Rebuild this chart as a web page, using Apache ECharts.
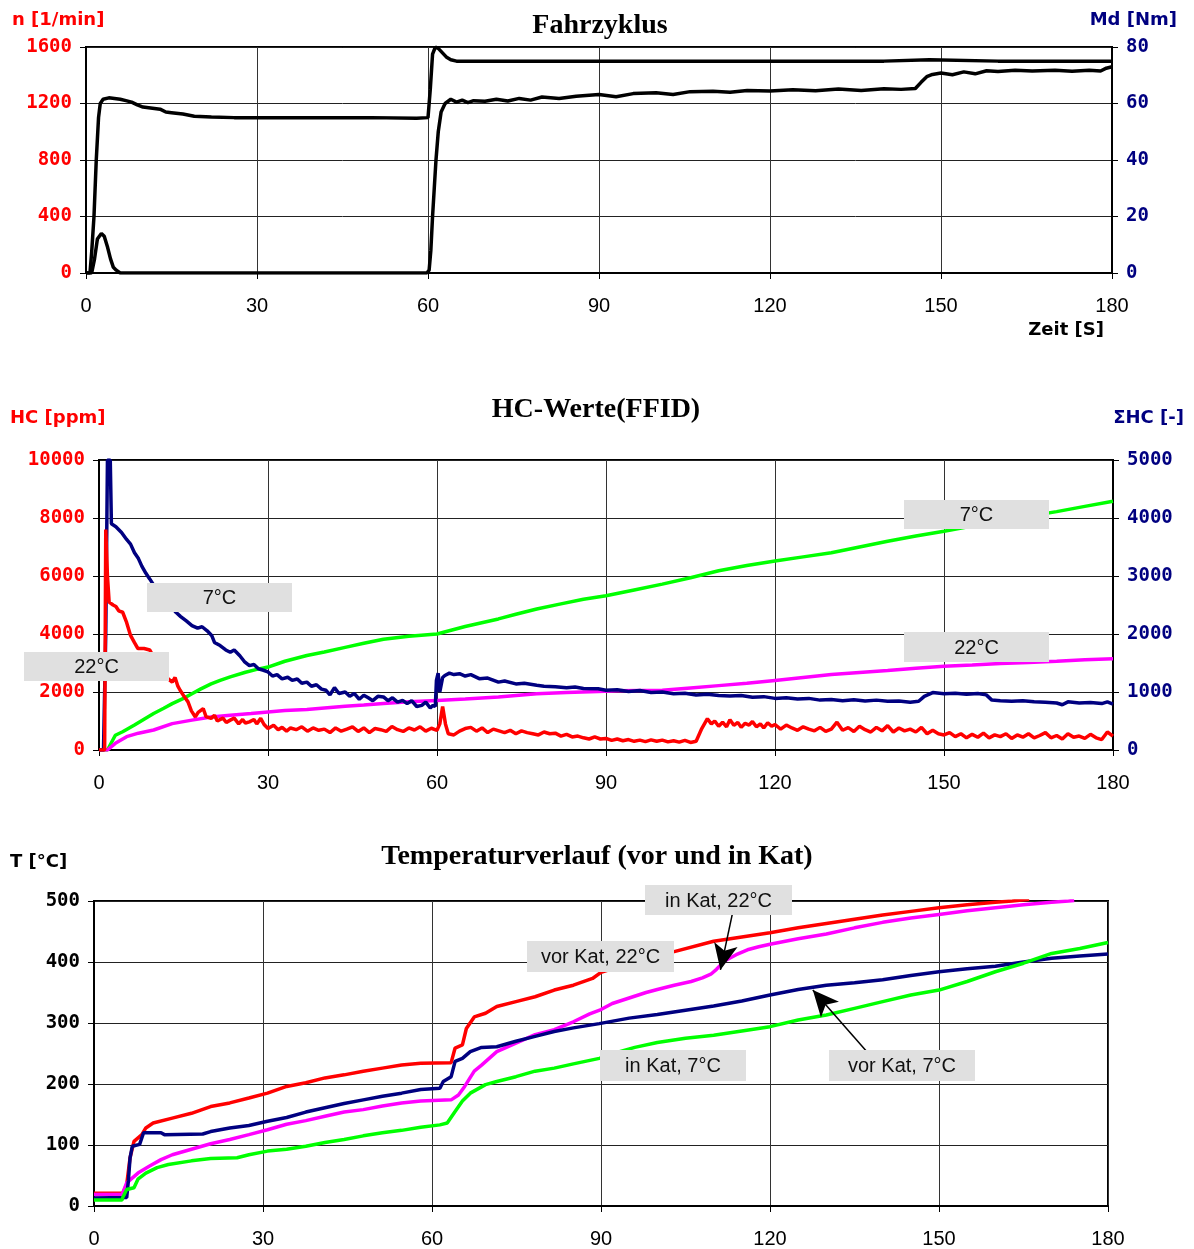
<!DOCTYPE html>
<html>
<head>
<meta charset="utf-8">
<script src="https://cdn.jsdelivr.net/npm/echarts@6/dist/echarts.min.js"></script>
<style>
  html, body { margin: 0; padding: 0; background: #fff; }
  #main { width: 1194px; height: 1249px; }
</style>
</head>
<body>
<div id="main"></div>
<script>
// time axis (s)
const timeTicks = [0, 30, 60, 90, 120, 150, 180];

// --- Fahrzyklus: engine speed n [1/min] and torque Md [Nm]
const speedN = [[0,0],[0.7,0],[1.0,150],[1.4,400],[1.8,800],[2.2,1100],[2.5,1200],[3,1230],[4,1240],[5,1235],[6,1230],[7,1220],[8,1210],[9,1190],[10,1175],[11,1170],[12,1165],[13,1160],[14,1140],[15,1135],[17,1125],[19,1110],[22,1105],[26,1100],[30,1100],[40,1100],[50,1100],[58,1095],[60,1100],[60.4,1300],[60.8,1550],[61.3,1600],[61.8,1590],[62.5,1560],[63.2,1530],[64,1510],[65,1500],[70,1500],[80,1500],[100,1500],[120,1500],[140,1500],[148,1510],[160,1500],[180,1500]];
const torqueMd = [[0,0],[1.0,0],[1.5,5],[2.0,12],[2.7,14],[3.2,13],[3.8,9],[4.3,5],[4.8,2],[5.3,1],[6,0],[30,0],[59.8,0],[60.2,1],[60.5,8],[60.8,20],[61.1,30],[61.4,40],[61.8,50],[62.3,57],[63,60],[64,61.5],[65,60.5],[66,61.2],[67,60.3],[68,61],[70,60.8],[72,61.5],[74,60.9],[76,61.8],[78,61.2],[80,62.3],[83,61.8],[86,62.6],[90,63.2],[93,62.4],[96,63.5],[100,63.8],[103,63.2],[106,64.2],[110,64.3],[113,64],[116,64.6],[120,64.4],[124,64.9],[128,64.5],[132,65.1],[136,64.6],[140,65.2],[143,65],[145.5,65.3],[146.5,67.5],[147.5,69.5],[148.5,70.3],[150,70.8],[152,70.2],[154,71.2],[156,70.5],[158,71.6],[160,71.3],[163,71.8],[166,71.5],[170,71.8],[173,71.4],[176,71.8],[178,71.5],[179,72.5],[180,73]];

// --- HC-Werte (FFID): HC [ppm] and cumulated ΣHC [-]
const hc22 = [[0,0],[1,0],[1.2,7600],[1.5,6000],[1.8,5100],[2.5,5000],[3,4950],[3.5,4800],[4.2,4750],[4.9,4400],[5.6,3950],[6.3,3700],[6.9,3500],[8,3500],[9,3450],[10,3100],[11,2800],[11.7,2570],[12.3,2450],[13,2340],[13.5,2500],[14,2200],[14.4,2060],[15.1,1850],[15.8,1660],[16.4,1350],[17.1,1140],[17.6,1300],[18.5,1430],[19,1150],[19.9,1090],[20.5,1200],[21,1000],[22,1100],[22.6,950],[23.3,1030],[24,1100],[24.8,900],[25.5,1050],[26,930],[26.7,970],[27.5,1050],[28,900],[28.7,1090],[29.3,880],[30,740],[31,850],[31.8,700],[32.5,780],[33.3,650],[34,760],[35,700],[36,800],[37,650],[38,760],[39,680],[40,720],[41,600],[42,760],[43,650],[44,720],[45,800],[46,640],[47,760],[48,600],[49,740],[50,700],[51,640],[52,810],[53,700],[54,640],[55,760],[56,690],[57,800],[58,650],[59,750],[60,680],[60.5,900],[61,1500],[61.5,900],[62,560],[63,520],[64,650],[65,740],[66,780],[67,650],[68,760],[69,600],[70,720],[71,660],[72,600],[73,680],[74,560],[75,660],[76,600],[77,560],[78,520],[79,620],[80,560],[81,580],[82,480],[83,540],[84,450],[85,480],[86,420],[87,380],[88,450],[89,380],[90,400],[91,330],[92,380],[93,320],[94,360],[95,300],[96,340],[97,290],[98,350],[99,300],[100,340],[101,280],[102,320],[103,270],[104,330],[105,260],[106,300],[107,740],[108,1080],[108.7,900],[109.3,1000],[110,820],[110.7,960],[111.4,800],[112,1040],[112.7,850],[113.4,950],[114,780],[114.7,920],[115.4,860],[116,980],[116.7,800],[117.4,900],[118,760],[118.7,940],[119.4,820],[120,880],[121,720],[122,860],[123,760],[124,680],[125,800],[126,720],[127,660],[128,780],[129,640],[130,720],[131,960],[132,680],[133,770],[134,640],[135,820],[136,700],[137,620],[138,780],[139,660],[140,840],[141,620],[142,760],[143,660],[144,720],[145,620],[146,780],[147,560],[148,680],[149,560],[150,520],[151,600],[152,460],[153,560],[154,420],[155,540],[156,440],[157,580],[158,420],[159,520],[160,460],[161,560],[162,400],[163,520],[164,440],[165,560],[166,420],[167,500],[168,600],[169,420],[170,500],[171,380],[172,560],[173,440],[174,480],[175,400],[176,540],[177,420],[178,360],[179,620],[180,480]];
const hc7 = [[0,0],[0.8,0],[1.2,4000],[1.5,10000],[2,10000],[2.2,7800],[3,7700],[4,7500],[4.9,7260],[5.6,7100],[6.3,6800],[7,6600],[7.6,6340],[8.3,6100],[9,5900],[10,5600],[11,5350],[12,5100],[13,4900],[13.7,4740],[14.5,4600],[15.5,4450],[16.5,4290],[17.5,4200],[18.3,4250],[19.2,4110],[20,3950],[20.5,3710],[21.5,3600],[22.5,3450],[23.3,3370],[24,3450],[25,3250],[25.8,3050],[26.7,2910],[27.5,2950],[28.3,2800],[29.2,2750],[30,2690],[30.8,2550],[31.6,2600],[32.5,2450],[33.5,2510],[34.3,2400],[35.2,2450],[36,2300],[36.9,2340],[37.7,2200],[38.6,2250],[39.5,2100],[40.3,2060],[41,1900],[41.8,2150],[42.6,1950],[43.7,2000],[44.5,1850],[45.3,1950],[46.2,1750],[47,1890],[47.8,1800],[48.6,1700],[49.5,1850],[50.5,1830],[51.3,1700],[52.1,1800],[53,1650],[53.9,1710],[54.7,1600],[55.5,1700],[56.4,1500],[57.3,1540],[58,1650],[58.8,1450],[59.3,1540],[59.7,1500],[59.9,2400],[60.2,2650],[60.5,2000],[61,2500],[61.4,2570],[62.2,2650],[63,2600],[64,2630],[65,2550],[66,2600],[67.5,2460],[69,2480],[70.9,2340],[72,2380],[74,2280],[75.5,2300],[77.7,2230],[79,2200],[81,2180],[83,2150],[84.5,2170],[86,2120],[88.6,2110],[90,2060],[92,2080],[94,2020],[96,2050],[98,1980],[100,2000],[102,1940],[104,1960],[106,1900],[108,1920],[110,1880],[112,1860],[114,1880],[116,1820],[118,1840],[120,1780],[122,1800],[124,1760],[126,1780],[128,1720],[130,1740],[132,1700],[134,1730],[136,1690],[138,1720],[140,1680],[142,1690],[144,1650],[145.5,1680],[146.5,1850],[148,1980],[150,1940],[152,1960],[154,1920],[156,1950],[157.5,1900],[158.5,1720],[160,1700],[162,1680],[164,1700],[166,1660],[168,1650],[170,1620],[171,1560],[172,1660],[174,1620],[176,1640],[178,1600],[179,1660],[180,1580]];
const sumHc7 = [[0,0],[1.5,0],[2.9,255],[4.2,315],[6.3,430],[8,530],[9.7,630],[11.5,720],[13,800],[15,890],[16.5,970],[18,1050],[19.9,1140],[21.5,1200],[23.3,1260],[26,1340],[28,1390],[30,1430],[33,1530],[36.9,1630],[40,1690],[43.7,1770],[47,1840],[50.5,1910],[55,1960],[60,2000],[65,2130],[70.9,2260],[74,2340],[77.7,2430],[82,2520],[86,2600],[90,2660],[95,2760],[100,2860],[105,2970],[110,3090],[115,3180],[120,3260],[125,3330],[130,3400],[135,3500],[140,3600],[145,3690],[150,3770],[155,3860],[160,3940],[165,4030],[170,4110],[175,4200],[180,4290]];
const sumHc22 = [[0,0],[1.5,0],[2.9,115],[4.9,230],[7,290],[9.7,345],[13,455],[16.5,515],[19.9,570],[23.3,600],[27,630],[30,655],[33,680],[36.9,700],[40,725],[43.7,755],[47,775],[50.5,800],[55,830],[60,855],[65,880],[70.9,915],[77.7,970],[83,990],[88.6,1010],[92,1020],[96,1025],[100,1030],[105,1070],[110,1110],[115,1150],[120,1200],[125,1250],[130,1300],[135,1335],[140,1370],[145,1410],[150,1445],[155,1465],[160,1490],[165,1510],[170,1530],[175,1555],[180,1575]];

// --- Temperaturverlauf: T [°C]
const tVor22 = [[0,21],[5.1,21],[5.8,35],[6.4,79],[7.1,106],[8.5,117],[9.2,128],[10.5,136],[13.9,144],[17.3,152],[20.7,163],[24.1,169],[27.5,177],[30.8,185],[34.2,196],[37.6,202],[41,210],[44.4,215],[47.8,221],[51.2,226],[54.6,231],[58,234],[63.4,235],[64.1,259],[65.4,264],[66.1,291],[67.5,310],[69.5,316],[71.5,327],[74.9,335],[78.3,343],[81.7,354],[85.1,362],[88.5,373],[90,383],[95,398],[100,412],[103,417],[110,434],[115,441],[120,448],[125,456],[130,463],[135,470],[140,477],[145,483],[150,489],[155,494],[160,498],[163,500],[166,503]];
const tIn22 = [[0,19],[5,19],[5.8,38],[7.8,54],[9.8,65],[11.9,76],[13.9,84],[17.3,93],[20.7,102],[24.1,109],[27.5,117],[30.8,125],[34.2,134],[37.6,140],[41,147],[44.4,154],[47.8,158],[51.2,164],[54.6,169],[58,172],[63.4,174],[64.7,182],[65.8,196],[67.5,221],[68.8,231],[71.5,253],[74.9,267],[78.3,281],[81.7,289],[85.1,302],[88,315],[90,322],[92,332],[95,341],[98,350],[100,355],[103,362],[106,368],[108,374],[109.5,380],[110.5,388],[112,402],[114,412],[116,420],[118,425],[120,429],[125,438],[130,446],[135,456],[140,465],[145,472],[150,478],[155,484],[160,489],[165,494],[170,498],[173,500],[174,501]];
const tVor7 = [[0,13],[5.8,14],[6.1,41],[6.4,79],[6.8,98],[8.1,101],[8.8,120],[11.9,120],[12.5,117],[19.3,118],[20.7,122],[24.1,128],[27.5,132],[30.8,139],[34.2,145],[37.6,154],[41,161],[44.4,168],[47.8,174],[51.2,180],[54.6,185],[58,191],[61.4,193],[62,204],[63.4,212],[64.1,237],[65.4,242],[66.8,253],[68.8,260],[71.5,261],[74.9,270],[78.3,278],[81.7,286],[85.1,292],[89.7,299],[95,308],[100,314],[105,321],[110,328],[115,336],[120,346],[125,355],[130,362],[135,366],[140,371],[145,378],[150,384],[155,389],[160,393],[165,400],[170,406],[175,410],[180,413]];
const tIn7 = [[0,10],[5,10],[5.1,14],[5.8,27],[7.1,30],[7.8,44],[9.2,54],[11.2,63],[13.2,68],[17.3,74],[20.7,78],[25.4,79],[27.5,84],[30.8,90],[34.2,93],[37.6,98],[41,104],[44.4,109],[47.8,115],[51.2,120],[54.6,124],[58,129],[61.4,133],[62.7,136],[64.1,155],[65.4,172],[66.8,185],[69.5,199],[71.5,204],[74.9,212],[78.3,221],[81.7,226],[85.1,233],[89.7,242],[93,252],[96,260],[100,268],[105,275],[110,280],[115,287],[120,294],[125,305],[130,313],[135,324],[140,335],[145,346],[150,354],[155,368],[160,384],[165,398],[170,414],[175,422],[180,432]];

// arrows: [from, to] in (s, °C)
const arrowIn22 = [[113.3, 478], [111.2, 387]];
const arrowVor7 = [[137.2, 253], [127.6, 354]];

const RED = '#ff0000', NAVY = '#000080', GREEN = '#00ff00', MAGENTA = '#ff00ff';
const MONO = '"DejaVu Sans Mono", monospace';
const SANS = '"Liberation Sans", Arial, sans-serif';

const chart = echarts.init(document.getElementById('main'), null, { renderer: 'canvas' });

function xAx(gridIndex) {
  return {
    type: 'value', gridIndex, min: 0, max: 180, interval: 30,
    axisLine: { show: true, lineStyle: { color: '#000', width: 2 } },
    axisTick: { show: true, length: 6, lineStyle: { color: '#000' } },
    splitLine: { show: true, lineStyle: { color: '#333', width: 1 } },
    axisLabel: { margin: 23, fontSize: 20, fontFamily: SANS, color: '#000',
      customValues: timeTicks, formatter: v => String(v) },
  };
}

function yAx(gridIndex, position, max, interval, color, split) {
  return {
    type: 'value', gridIndex, position, min: 0, max, interval,
    axisLine: { show: true, lineStyle: { color: '#000', width: 2 } },
    axisTick: { show: true, length: 6, lineStyle: { color: '#000' } },
    splitLine: { show: split, lineStyle: { color: '#222', width: 1 } },
    axisLabel: { margin: 14, fontSize: 19, fontWeight: 'bold', fontFamily: MONO, color,
      formatter: v => String(v) },
  };
}

function line(data, color, xi, yi, extra) {
  return Object.assign({
    type: 'line', data, xAxisIndex: xi, yAxisIndex: yi,
    showSymbol: false, symbol: 'none', smooth: false,
    lineStyle: { color, width: 3.5 }, itemStyle: { color },
  }, extra || {});
}

function arrow(a) {
  return {
    silent: true, symbol: ['none', 'arrow'], symbolSize: [18, 26],
    lineStyle: { color: '#000', width: 1.5, type: 'solid' },
    label: { show: false },
    data: [[{ coord: a[0] }, { coord: a[1] }]],
  };
}

function txt(x, y, text, font, fill, align) {
  return { type: 'text', z: 100, style: { x, y, text, font, fill,
    textAlign: align || 'left', textVerticalAlign: 'middle', align: align || 'left', verticalAlign: 'middle' } };
}

function box(x, y, w, h, text) {
  return { type: 'group', z: 100, children: [
    { type: 'rect', z: 100, shape: { x, y, width: w, height: h }, style: { fill: '#e0e0e0' } },
    txt(x + w / 2, y + h / 2 + 1, text, '20px ' + SANS, '#111', 'center'),
  ] };
}

const TITLE = 'bold 28px "Liberation Serif", serif';
const AXN = 'bold 18px "DejaVu Sans", sans-serif';

chart.setOption({
  animation: false,
  backgroundColor: '#fff',
  grid: [
    { left: 86, right: 82, top: 47, height: 226, show: true, borderColor: '#000', borderWidth: 2, backgroundColor: '#fff' },
    { left: 99, right: 81, top: 460, height: 290, show: true, borderColor: '#000', borderWidth: 2, backgroundColor: '#fff' },
    { left: 94, right: 86, top: 901, height: 306, show: true, borderColor: '#000', borderWidth: 2, backgroundColor: '#fff' },
  ],
  xAxis: [xAx(0), xAx(1), xAx(2)],
  yAxis: [
    yAx(0, 'left', 1600, 400, RED, true),
    yAx(0, 'right', 80, 20, NAVY, false),
    yAx(1, 'left', 10000, 2000, RED, true),
    yAx(1, 'right', 5000, 1000, NAVY, false),
    yAx(2, 'left', 500, 100, '#000', true),
  ],
  series: [
    line(speedN, '#000', 0, 0),
    line(torqueMd, '#000', 0, 1),
    line(sumHc7, GREEN, 1, 3),
    line(sumHc22, MAGENTA, 1, 3),
    line(hc7, NAVY, 1, 2),
    line(hc22, RED, 1, 2),
    line(tVor22, RED, 2, 4),
    line(tIn22, MAGENTA, 2, 4, { markLine: arrow(arrowIn22) }),
    line(tVor7, NAVY, 2, 4, { markLine: arrow(arrowVor7) }),
    line(tIn7, GREEN, 2, 4),
  ],
  graphic: [
    txt(600, 26, 'Fahrzyklus', TITLE, '#000', 'center'),
    txt(12, 20, 'n [1/min]', AXN, RED),
    txt(1177, 20, 'Md [Nm]', AXN, NAVY, 'right'),
    txt(1104, 330, 'Zeit [S]', AXN, '#000', 'right'),

    txt(596, 410, 'HC-Werte(FFID)', TITLE, '#000', 'center'),
    txt(10, 418, 'HC [ppm]', AXN, RED),
    txt(1184, 418, 'ΣHC [-]', AXN, NAVY, 'right'),
    box(147, 583, 145, 29, '7°C'),
    box(24, 652, 145, 29, '22°C'),
    box(904, 500, 145, 29, '7°C'),
    box(904, 632, 145, 30, '22°C'),

    txt(597, 857, 'Temperaturverlauf (vor und in Kat)', TITLE, '#000', 'center'),
    txt(10, 862, 'T [°C]', AXN, '#000'),
    box(645, 885, 147, 30, 'in Kat, 22°C'),
    box(527, 941, 147, 31, 'vor Kat, 22°C'),
    box(600, 1050, 146, 31, 'in Kat, 7°C'),
    box(829, 1050, 146, 31, 'vor Kat, 7°C'),
  ],
});
</script>
</body>
</html>
